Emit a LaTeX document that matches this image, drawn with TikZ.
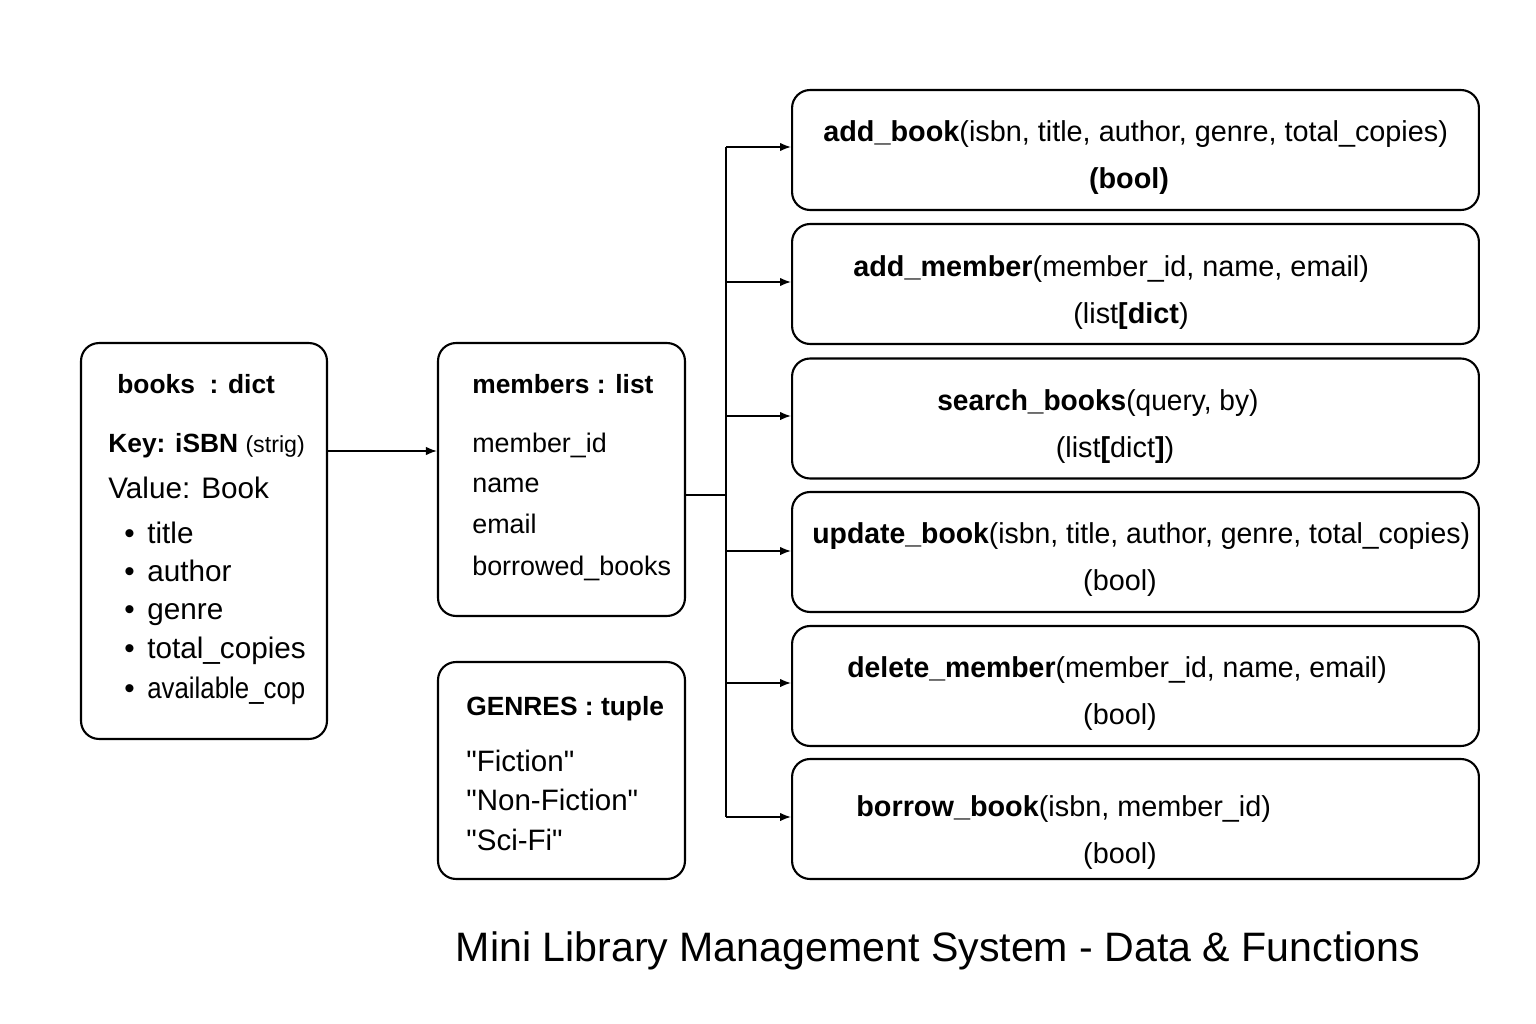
\documentclass[tikz,border=0pt]{standalone}
\usepackage{fontspec}
\setmainfont{Liberation Sans}[Ligatures=TeXOff]
\usetikzlibrary{arrows.meta}
\begin{document}
\begin{tikzpicture}[x=0.02cm,y=-0.02cm,
  box/.style={draw, line width=1.2pt, rounded corners=0.36cm, inner sep=0pt},
  conn/.style={line width=0.9pt},
  arr/.style={conn, -{Latex[length=2.2mm,width=1.7mm]}},
  txt/.style={anchor=base west, inner sep=0pt},
  ctxt/.style={anchor=base, inner sep=0pt},
  hdr/.style={txt, font=\fontsize{15}{18}\selectfont\bfseries},
  item/.style={txt, font=\fontsize{16.9}{20}\selectfont},
  mitem/.style={txt, font=\fontsize{15.3}{18}\selectfont},
  gitem/.style={txt, font=\fontsize{16.8}{20}\selectfont},
  fn/.style={txt, font=\fontsize{16.4}{19}\selectfont},
  ret/.style={ctxt, font=\fontsize{16.4}{19}\selectfont},
  ttl/.style={ctxt, font=\fontsize{23.4}{28}\selectfont}]
\useasboundingbox (0,0) rectangle (1536,1024);
\fill[white] (0,0) rectangle (1536,1024);

% data boxes
\node[box, minimum width=4.92cm, minimum height=7.92cm] (books) at (204,541) {};
\node[box, minimum width=4.94cm, minimum height=5.46cm] (members) at (561.5,479.5) {};
\node[box, minimum width=4.94cm, minimum height=4.34cm] (genres) at (561.5,770.5) {};

% books text
\node[hdr] (b0) at (117,393) {books\ \ : dict};
\node[hdr] (b1) at (108,452) {Key: iSBN \mdseries\fontsize{13.2}{15}\selectfont(strig)};
\node[item] (b2) at (108,498) {Value: Book};
\node[item] (d3) at (124,543) {\textbullet};
\node[item] (d4) at (124,581) {\textbullet};
\node[item] (d5) at (124,619) {\textbullet};
\node[item] (d6) at (124,658) {\textbullet};
\node[item] (d7) at (124,698) {\textbullet};
\node[item] (b3) at (147,543) {title};
\node[item] (b4) at (147,581) {author};
\node[item] (b5) at (147,619) {genre};
\node[item] (b6) at (147,658) {total\_copies};
\node[item] (b7) at (147,698) {\scalebox{0.87}[1]{available\_cop}};

% members text
\node[hdr] (m0) at (472,393) {members : list};
\node[mitem] (m1) at (472,452) {member\_id};
\node[mitem] (m2) at (472,492) {name};
\node[mitem] (m3) at (472,533) {email};
\node[mitem] (m4) at (472,575) {borrowed\_books};

% genres text
\node[hdr] (g0) at (466,715) {GENRES : tuple};
\node[gitem] (g1) at (466,771) {"Fiction"};
\node[gitem] (g2) at (466,810) {"Non-Fiction"};
\node[gitem] (g3) at (466,850) {"Sci-Fi"};

% function boxes
\node[box, minimum width=13.74cm, minimum height=2.4cm] (f1) at (1135.5,150) {};
\node[box, minimum width=13.74cm, minimum height=2.4cm] (f2) at (1135.5,284) {};
\node[box, minimum width=13.74cm, minimum height=2.4cm] (f3) at (1135.5,418.5) {};
\node[box, minimum width=13.74cm, minimum height=2.4cm] (f4) at (1135.5,552) {};
\node[box, minimum width=13.74cm, minimum height=2.4cm] (f5) at (1135.5,686) {};
\node[box, minimum width=13.74cm, minimum height=2.4cm] (f6) at (1135.5,819) {};

\node[fn] (t1a) at (823,142) {\textbf{add\_book}(isbn, title, author, genre, total\_copies)};
\node[ret] (t1b) at (1129,189) {\textbf{(bool)}};
\node[fn] (t2a) at (853,276) {\textbf{add\_member}(member\_id, name, email)};
\node[ret] (t2b) at (1131,323) {(list\textbf{[dict})};
\node[fn] (t3a) at (937,410) {\scalebox{0.975}[1]{\textbf{search\_books}(query, by)}};
\node[ret] (t3b) at (1115,457) {(list\textbf{[}dict\textbf{]})};
\node[fn] (t4a) at (812,543) {\scalebox{0.985}[1]{\textbf{update\_book}(isbn, title, author, genre, total\_copies)}};
\node[ret] (t4b) at (1120,590) {(bool)};
\node[fn] (t5a) at (847,677) {\scalebox{0.985}[1]{\textbf{delete\_member}(member\_id, name, email)}};
\node[ret] (t5b) at (1120,724) {(bool)};
\node[fn] (t6a) at (856,816) {\textbf{borrow\_book}(isbn, member\_id)};
\node[ret] (t6b) at (1120,863) {(bool)};

% connectors
\draw[arr] (books.east |- 0,451) -- (members.west |- 0,451);
\coordinate (mout) at (685,495);
\coordinate (j) at (726,495);
\draw[conn] (mout) -- (j);
\coordinate (jt) at (726,147);
\coordinate (jb) at (726,817);
\draw[conn] (jt) -- (jb);
\draw[arr] (jt) -- (f1.west |- jt);
\draw[arr] (j |- 0,282) -- (f2.west |- 0,282);
\draw[arr] (j |- 0,416) -- (f3.west |- 0,416);
\draw[arr] (j |- 0,551) -- (f4.west |- 0,551);
\draw[arr] (j |- 0,683) -- (f5.west |- 0,683);
\draw[arr] (jb) -- (f6.west |- jb);

% title
\node[ttl] (title) at (938,961) {Mini Library Management System - Data \& Functions};
\end{tikzpicture}
\end{document}
